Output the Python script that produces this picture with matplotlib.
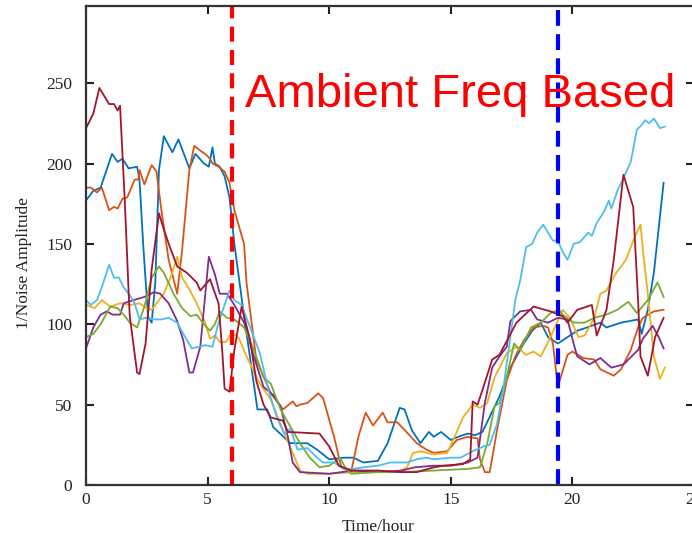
#!/usr/bin/env python3
"""Daily 1/noise-amplitude traces with the ambient-frequency window marked."""

import matplotlib
matplotlib.use("Agg")
import matplotlib.pyplot as plt

# MATLAB-style default line colours
COLORS = {
    "blue":      "#0072BD",
    "orange":    "#D95319",
    "yellow":    "#EDB120",
    "purple":    "#7E2F8E",
    "green":     "#77AC30",
    "lightblue": "#4DBEEE",
    "darkred":   "#A2142F",
}

# traced series (hour, 1/noise amplitude)
BLUE_T = [0, 0.3, 0.6, 1.07, 1.3, 1.5, 1.75, 2.1, 2.2, 2.35, 2.55, 2.7, 2.85, 3.0, 3.2, 3.55,
          3.8, 4.25, 4.5, 4.85, 5.05, 5.2, 5.3, 5.5, 5.7, 5.9, 6.1, 6.5, 7.05, 7.45, 7.7, 8.4,
          9.1, 9.5, 10.0, 10.6, 11.0, 11.4, 12.0, 12.4, 12.9, 13.1, 13.4, 13.75, 14.1, 14.3,
          14.6, 15.0, 15.3, 15.7, 16.0, 16.3, 17.0, 17.45, 18.0, 18.35, 18.7, 19.0, 19.4, 19.8,
          20.2, 20.6, 21.15, 21.4, 22.0, 22.7, 22.85, 23.1, 23.35, 23.75]
BLUE_V = [177, 183, 185, 206, 201, 203, 197, 198, 190, 150, 105, 101, 126, 196, 217, 207,
          215, 197, 206, 200, 198, 210, 200, 198, 192, 179, 150, 105, 47, 47, 36, 26,
          26, 22, 16, 17, 17, 14, 15, 26, 48, 47, 34, 26, 33, 30,
          33, 28, 30, 32, 31, 33, 55, 73, 88, 96, 101, 92, 88, 92,
          96, 98, 101, 98, 101, 103, 94, 109, 132, 188]

ORANGE_T = [0, 0.2, 0.45, 0.65, 0.95, 1.15, 1.3, 1.5, 1.7, 2.0, 2.15, 2.2, 2.4, 2.7, 2.9, 3.1,
            3.4, 3.75, 3.95, 4.25, 4.45, 4.7, 4.9, 5.1, 5.2, 5.45, 5.7, 5.9, 6.1, 6.5, 6.6,
            7.0, 7.6, 8.1, 8.5, 8.65, 8.8, 9.1, 9.55, 9.75, 10.2, 10.5, 10.9, 11.2, 11.5,
            11.8, 12.2, 12.4, 12.8, 13.3, 13.6, 14.0, 14.3, 14.85, 15.25, 15.7, 16.1, 16.2,
            16.4, 16.6, 16.9, 17.3, 17.65, 18.0, 18.4, 18.8, 19.0, 19.2, 19.4, 19.8, 20.0,
            20.45, 20.9, 21.15, 21.7, 22.0, 22.4, 22.7, 22.9, 23.35, 23.75]
ORANGE_V = [185, 185, 182, 185, 171, 173, 172, 178, 179, 190, 190, 196, 187, 199, 195, 171,
            140, 119, 146, 196, 211, 208, 206, 203, 200, 198, 195, 188, 171, 150, 126,
            78, 57, 47, 52, 49, 50, 51, 57, 54, 30, 11, 8, 30, 45,
            37, 45, 39, 39, 31, 26, 22, 20, 21, 28, 30, 29, 16,
            8, 8, 34, 65, 80, 90, 98, 99, 98, 88, 61, 81, 83,
            79, 78, 72, 68, 72, 84, 98, 104, 108, 109]

YELLOW_T = [0, 0.35, 0.65, 1.0, 1.4, 1.8, 2.2, 2.5, 2.7, 3.2, 3.55, 3.75, 3.95, 4.2, 4.55, 4.9,
            5.1, 5.3, 5.5, 5.75, 6.0, 6.3, 6.6, 7.15, 7.6, 8.1, 8.5, 8.8, 9.1, 10, 11, 12,
            12.8, 13.2, 13.45, 13.75, 14.3, 14.85, 15.1, 15.5, 15.9, 16.2, 16.5, 16.8, 17.3,
            17.7, 18.1, 18.4, 18.7, 19.1, 19.6, 19.9, 20.25, 20.5, 20.9, 21.15, 21.4, 21.8,
            22.2, 22.5, 22.8, 22.9, 23.1, 23.35, 23.6, 23.8]
YELLOW_V = [112, 110, 115, 111, 113, 112, 113, 110, 109, 119, 132, 142, 129, 123, 113, 101,
            91, 93, 89, 89, 95, 91, 80, 63, 53, 34, 20, 9, 7, 7, 8, 8,
            8, 11, 20, 21, 19, 20, 28, 42, 50, 48, 51, 67, 82,
            86, 81, 83, 80, 92, 109, 104, 92, 93, 104, 119, 121, 132,
            140, 152, 162, 146, 119, 80, 66, 73]

PURPLE_T = [0, 0.3, 0.6, 0.85, 1.1, 1.4, 1.55, 1.95, 2.4, 2.8, 3.05, 3.4, 3.75, 4.0, 4.25, 4.4,
            4.7, 5.05, 5.3, 5.5, 5.8, 6.1, 6.5, 6.9, 7.3, 7.7, 8.0, 8.3, 8.5, 8.8, 10.0, 11.0,
            12.0, 13.0, 13.5, 14.3, 15.0, 15.7, 16.1, 16.3, 16.4, 16.7, 17.0, 17.3, 17.45,
            17.85, 18.3, 18.55, 19.0, 19.4, 19.8, 20.05, 20.2, 20.7, 21.15, 21.6, 22.1, 22.7,
            22.9, 23.3, 23.55, 23.75]
PURPLE_V = [85, 98, 106, 108, 106, 106, 113, 115, 117, 120, 119, 113, 102, 90, 70, 70,
            86, 142, 131, 119, 119, 112, 101, 80, 61, 56, 49, 30, 14, 8, 7, 9,
            8, 9, 11, 12, 12, 14, 17, 40, 51, 73, 80, 86, 102,
            108, 109, 103, 101, 104, 103, 88, 80, 75, 79, 73, 75, 84,
            91, 99, 92, 85]

GREEN_T = [0, 0.3, 0.6, 1.0, 1.3, 1.55, 1.8, 2.1, 2.4, 2.7, 3.0, 3.2, 3.6, 3.95, 4.3, 4.55,
           4.85, 5.1, 5.3, 5.5, 5.8, 6.1, 6.5, 6.9, 7.3, 7.6, 8.0, 8.3, 8.8, 9.2, 9.6, 10.0,
           10.45, 10.65, 10.9, 12, 13, 14.3, 15.7, 16.2, 16.5, 16.8, 17.0, 17.3, 17.6, 17.85,
           18.3, 18.7, 19.1, 19.45, 19.6, 20.05, 20.5, 20.9, 21.4, 21.85, 22.3, 22.65, 23.1,
           23.5, 23.75]
GREEN_V = [92, 94, 100, 111, 110, 106, 101, 98, 111, 129, 136, 132, 119, 110, 105, 106,
           100, 96, 100, 108, 104, 103, 98, 84, 67, 63, 47, 39, 26, 17, 11, 12,
           17, 11, 7, 8, 8, 9, 10, 11, 26, 49, 51, 67, 88, 84,
           98, 101, 107, 109, 106, 101, 101, 104, 106, 109, 114, 107, 115,
           126, 117]

LIGHTBLUE_T = [0, 0.2, 0.45, 0.65, 0.95, 1.15, 1.35, 1.55, 1.8, 2.0, 2.2, 2.45, 2.8, 3.1, 3.4,
               3.75, 4.0, 4.35, 4.65, 4.9, 5.2, 5.45, 5.9, 6.1, 6.4, 6.75, 7.15, 7.5, 7.85,
               8.15, 8.4, 8.7, 9.1, 9.5, 9.75, 10.2, 10.6, 11.0, 11.4, 12.0, 12.5, 13.2, 13.6,
               14.0, 14.3, 15.0, 15.4, 15.9, 16.35, 16.6, 16.9, 17.15, 17.45, 17.65, 17.85,
               18.1, 18.35, 18.55, 18.8, 19.2, 19.4, 19.6, 19.8, 20.05, 20.3, 20.65, 20.8,
               21.0, 21.3, 21.5, 21.6, 21.85, 22.1, 22.4, 22.65, 22.85, 23.0, 23.15, 23.35,
               23.6, 23.8]
LIGHTBLUE_V = [115, 112, 115, 123, 137, 129, 129, 123, 118, 113, 103, 104, 103, 103, 104,
               101, 94, 85, 86, 87, 86, 101, 121, 115, 112, 98, 82, 59, 42,
               32, 35, 22, 23, 17, 14, 14, 10, 10, 11, 12, 14, 14, 16,
               17, 16, 17, 17, 21, 24, 25, 38, 59, 92, 115, 127,
               148, 150, 157, 162, 152, 152, 145, 140, 150, 151, 157, 155,
               163, 170, 177, 172, 183, 191, 201, 221, 224, 227, 225, 228,
               222, 223]

DARKRED_T = [0, 0.3, 0.55, 0.95, 1.15, 1.3, 1.4, 1.6, 1.75, 1.8, 2.1, 2.2, 2.45, 2.7, 3.0, 3.2,
             3.45, 3.75, 4.15, 4.55, 4.7, 5.1, 5.45, 5.6, 5.7, 5.9, 6.1, 6.4, 6.75, 7.0, 7.3,
             7.6, 8.1, 8.3, 9.6, 10.0, 10.4, 10.9, 12.0, 13.0, 13.6, 14.3, 14.7, 15.5, 15.8,
             15.9, 16.1, 16.3, 16.7, 17.0, 17.7, 18.4, 19.1, 19.6, 19.8, 20.2, 20.8, 21.0,
             21.4, 21.7, 22.1, 22.5, 22.7, 22.8, 23.1, 23.4, 23.75]
DARKRED_V = [222, 231, 247, 237, 237, 233, 236, 175, 121, 105, 70, 69, 88, 134, 169, 159,
             148, 136, 132, 126, 121, 128, 113, 84, 60, 58, 84, 111, 90, 65, 50,
             42, 40, 33, 32, 24, 12, 9, 9, 8, 8, 11, 12, 13, 16,
             52, 50, 59, 78, 81, 101, 111, 108, 105, 101, 109, 112, 93,
             109, 140, 193, 173, 115, 80, 68, 92, 104]

SERIES = [
    (BLUE_T, BLUE_V, "blue"),
    (ORANGE_T, ORANGE_V, "orange"),
    (YELLOW_T, YELLOW_V, "yellow"),
    (PURPLE_T, PURPLE_V, "purple"),
    (GREEN_T, GREEN_V, "green"),
    (LIGHTBLUE_T, LIGHTBLUE_V, "lightblue"),
    (DARKRED_T, DARKRED_V, "darkred"),
]

START_HOUR = 6.0    # red marker
END_HOUR = 19.4     # blue marker
X_TICKS = [0, 5, 10, 15, 20, 25]
Y_TICKS = [0, 50, 100, 150, 200, 250]
LABEL = "Ambient Freq Based"

SERIF = ["Liberation Serif", "DejaVu Serif"]
SANS = ["Liberation Sans", "DejaVu Sans"]


def main():
    W, H = 692, 533
    fig = plt.figure(figsize=(W / 100, H / 100), dpi=100)
    # right spine sits just past the image edge in the reference
    ax = fig.add_axes([86 / W, 48 / H, 608 / W, 479 / H])

    for t, v, key in SERIES:
        ax.plot(t, v, color=COLORS[key], linewidth=1.3, solid_joinstyle="round")

    ax.axvline(START_HOUR, color="#ff0000", linewidth=3.0, dashes=(3.6, 2.0))
    ax.axvline(END_HOUR, color="#0000ff", linewidth=3.0, dashes=(3.8, 2.0))

    ax.text(6.55, 235, LABEL, color="#ff0000", fontsize=34, family=SANS,
            va="baseline", ha="left")

    ax.set_xlim(0, 25)
    ax.set_ylim(0, 298)
    ax.set_xticks(X_TICKS)
    ax.set_yticks(Y_TICKS)
    ax.tick_params(direction="in", top=True, right=True, length=6, width=1.5,
                   colors="#222222", labelsize=12.5)
    ax.tick_params(axis="y", pad=10)
    ax.tick_params(axis="x", pad=5)
    for lab in ax.get_xticklabels() + ax.get_yticklabels():
        lab.set_family(SERIF)
    for sp in ax.spines.values():
        sp.set_linewidth(1.6)
        sp.set_color("#333333")

    ax.set_xlabel("Time/hour", family=SERIF, fontsize=12.5, color="#222222")
    ax.xaxis.set_label_coords(12.0 / 25, -0.072)
    ax.set_ylabel("1/Noise Amplitude", family=SERIF, fontsize=12.5, color="#222222")
    ax.yaxis.set_label_coords(-0.088, 0.463)

    fig.savefig("out.png", dpi=100)
    plt.close(fig)


if __name__ == "__main__":
    main()
